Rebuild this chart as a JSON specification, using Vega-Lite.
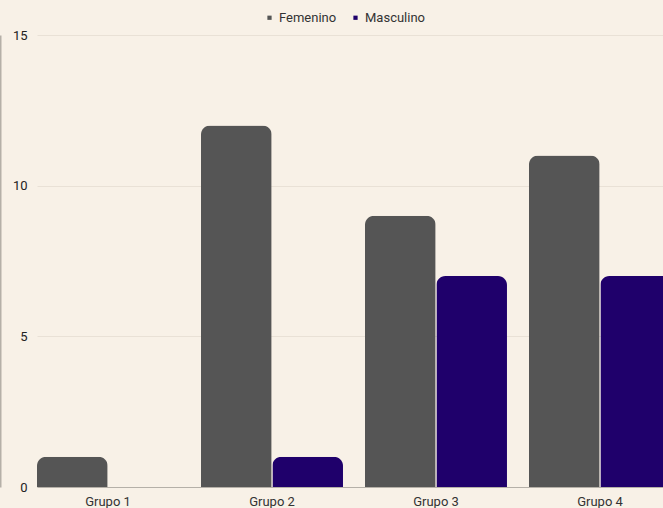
{
  "$schema": "https://vega.github.io/schema/vega-lite/v6.json",
  "width": 626,
  "height": 452,
  "autosize": {"type": "none"},
  "padding": {"left": 37, "top": 35, "right": 0, "bottom": 21},
  "background": "#f8f1e7",
  "config": {
    "font": "Roboto",
    "view": {"stroke": null},
    "axis": {"labelFont": "Roboto", "labelFontSize": 13, "labelColor": "#333333"}
  },
  "data": {
    "values": [
      {"grupo": "Grupo 1", "sexo": "Femenino", "n": 1},
      {"grupo": "Grupo 1", "sexo": "Masculino", "n": 0},
      {"grupo": "Grupo 2", "sexo": "Femenino", "n": 12},
      {"grupo": "Grupo 2", "sexo": "Masculino", "n": 1},
      {"grupo": "Grupo 3", "sexo": "Femenino", "n": 9},
      {"grupo": "Grupo 3", "sexo": "Masculino", "n": 7},
      {"grupo": "Grupo 4", "sexo": "Femenino", "n": 11},
      {"grupo": "Grupo 4", "sexo": "Masculino", "n": 7}
    ]
  },
  "mark": {"type": "bar", "cornerRadiusTopLeft": 9, "cornerRadiusTopRight": 9},
  "encoding": {
    "x": {
      "field": "grupo", "type": "nominal", "title": null,
      "scale": {"range": [0, 634], "paddingInner": 0.134, "paddingOuter": 0},
      "axis": {"labelAngle": 0, "ticks": false, "labelPadding": 8, "domainColor": "#b5b0a8", "grid": false}
    },
    "xOffset": {"field": "sexo", "type": "nominal", "scale": {"range": [0, 142], "paddingInner": 0.01, "paddingOuter": 0}},
    "y": {
      "field": "n", "type": "quantitative", "title": null,
      "scale": {"domain": [0, 15]},
      "axis": {"values": [0, 5, 10, 15], "ticks": false, "domain": true, "domainColor": "#b5b0a8", "domainWidth": 2, "offset": 37, "labelAlign": "right", "labelPadding": -27, "gridColor": "#e9e1d6", "labelColor": "#222222"}
    },
    "color": {
      "field": "sexo", "type": "nominal",
      "scale": {"domain": ["Femenino", "Masculino"], "range": ["#555555", "#1f006b"]},
      "legend": {"title": null, "orient": "none", "legendX": 226, "legendY": -24, "direction": "horizontal", "symbolType": "square", "symbolSize": 18, "labelFontSize": 13, "labelColor": "#333333", "columnPadding": 12, "labelOffset": 3}
    }
  }
}
